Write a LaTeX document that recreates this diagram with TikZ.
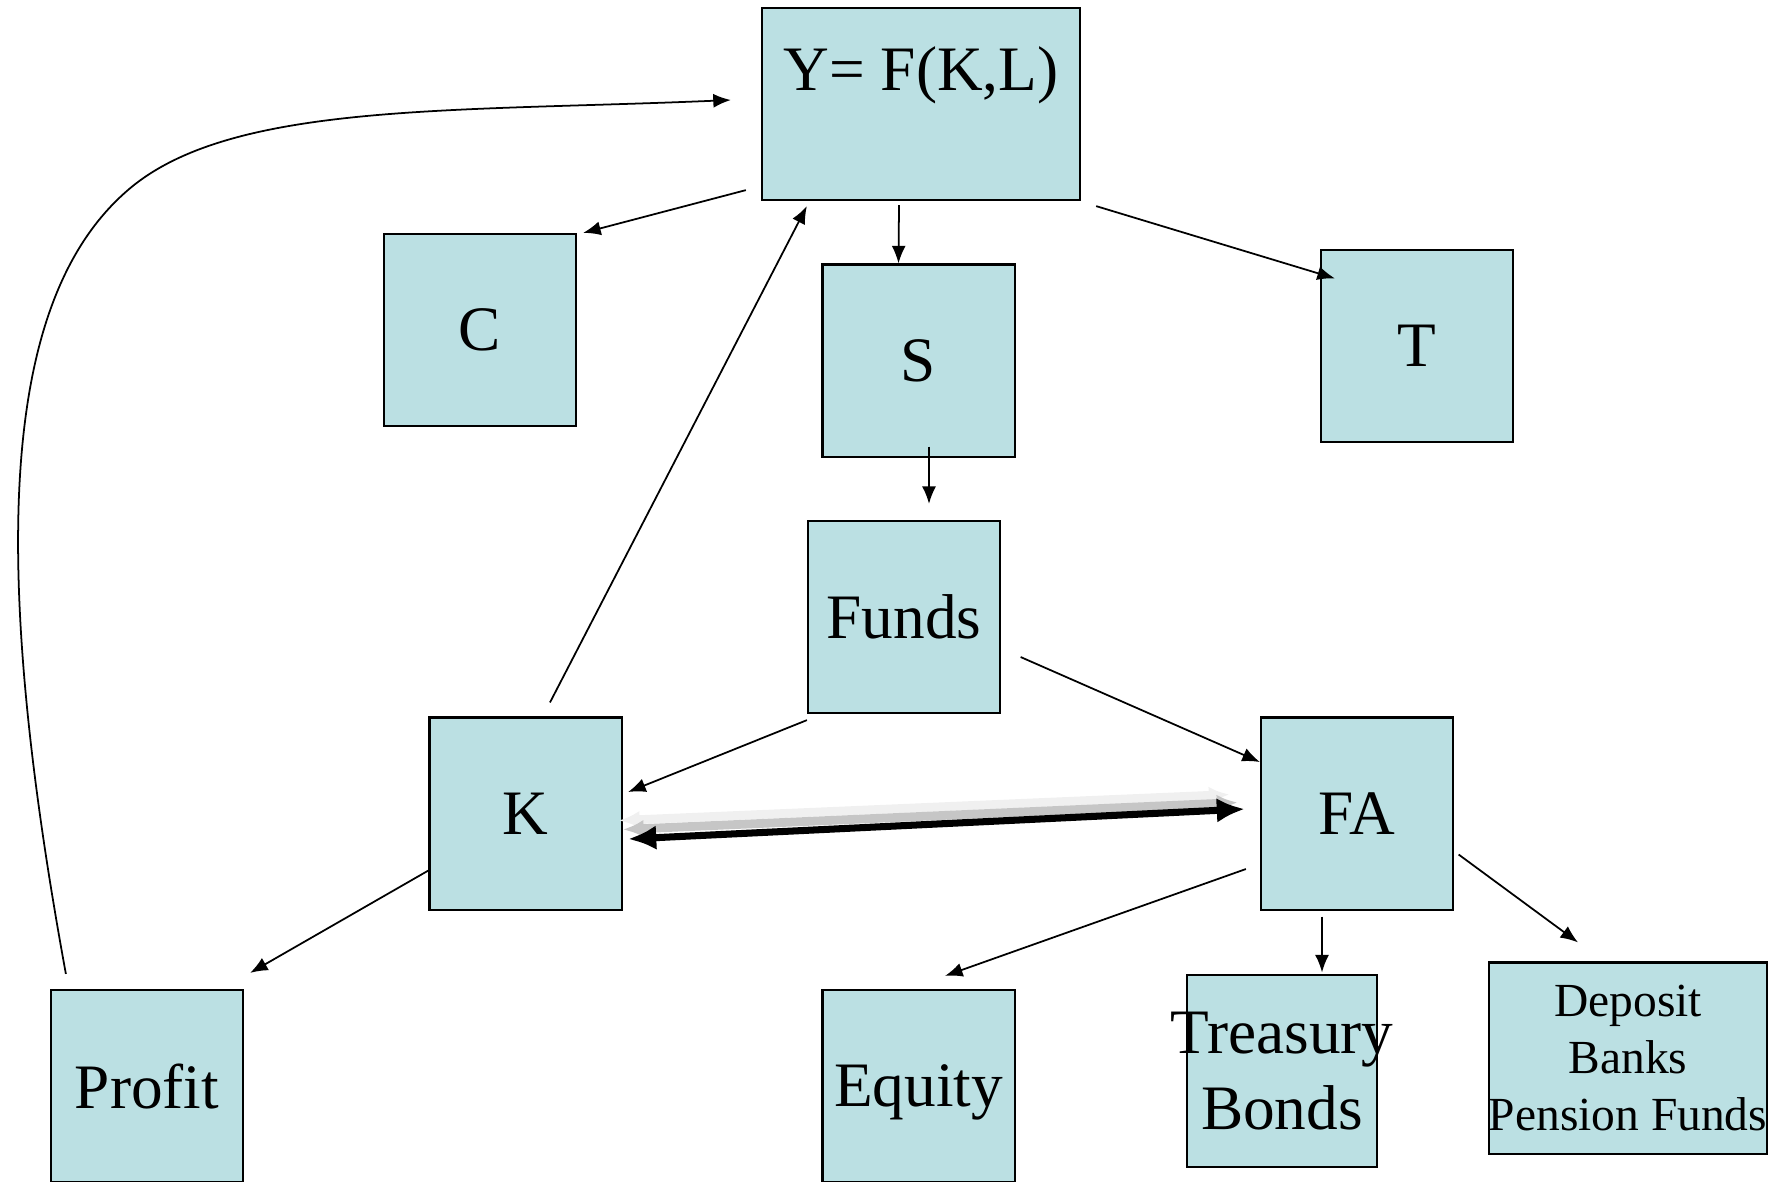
\documentclass[tikz,border=0pt]{standalone}
\usepackage{fontspec}
\setmainfont{Liberation Serif}
\usetikzlibrary{positioning,calc,arrows.meta}
\definecolor{boxfill}{RGB}{187,224,227}
\tikzset{box/.style={draw=black,line width=0.6pt,fill=boxfill,align=center,inner sep=0pt,
    minimum width=1.92cm,minimum height=1.92cm,font=\fontsize{18}{21.6}\selectfont}}
\tikzset{flow/.style={line width=0.5pt,-{Latex[length=5pt,width=4pt]}}}
\tikzset{bigarrow/.style={line width=2pt,{Latex[length=8pt,width=7pt]}-{Latex[length=8pt,width=7pt]}}}
\tikzset{ghost/.style={line width=2.5pt,{Latex[length=6pt,width=5pt]}-{Latex[length=6pt,width=5pt]}}}

\begin{document}
\begin{tikzpicture}[x=0.01cm,y=-0.01cm]
    \useasboundingbox (0,0) rectangle (1789,1181);
    % boxes
    \node[box,minimum width=3.18cm] (Y) at (921,104) {Y= F(K,L)\\[-0.28cm] \strut};
    \node[box] (C) at (480,330) {C};
    \node[box] (S) at (918.5,360.5) {S};
    \node[box] (T) at (1417,346) {T};
    \node[box] (Funds) at (904,617) {Funds};
    \node[box] (K) at (525.5,813.5) {K};
    \node[box] (FA) at (1357,813.5) {FA};
    \node[box] (Profit) at (147,1086) {Profit};
    \node[box,text depth=0pt] (Equity) at (918.5,1086) {Equity};
    \node[box,minimum width=1.9cm] (TB) at (1282,1071) {\makebox[0pt]{Treasury}\\Bonds};
    \node[box,minimum width=2.78cm,minimum height=1.91cm,font=\fontsize{13.5}{16.2}\selectfont] (DB) at (1628,1058) {Deposit\\Banks\\Pension Funds};
    % flows out of Y
    \draw[flow] ($(Y.south west)+(-15,-11)$) -- ($(C.north east)+(6,0)$);
    \draw[flow] ($(Y.south)+(-22,4)$) -- ($(S.north)+(-20,0)$);
    \draw[flow] ($(Y.south east)+(15,5)$) -- ($(T.north west)+(15,29.5)$);
    \draw[flow] ($(S.south)+(10.5,-11)$) -- ($(Funds.north)+(25,-16)$);
    \draw[flow] ($(Funds.south west)+(0,6)$) -- ($(K.east)+(5.5,-21.5)$);
    \draw[flow] ($(Funds.east)+(19.5,40)$) -- ($(FA.west)+(0,-51.5)$);
    \draw[flow] ($(K.north)+(24.5,-14)$) -- ($(Y.south west)+(46,5)$);
    \draw[flow] ($(K.west)+(0,57)$) -- ($(Profit.north east)+(6,-16)$);
    \draw[flow] ($(FA.west)+(-14,55.5)$) -- ($(Equity.north)+(26.5,-13)$);
    \draw[flow] ($(FA.south)+(-35,6)$) -- ($(TB.north)+(40,-1.5)$);
    \draw[flow] ($(FA.east)+(4.5,41)$) -- ($(DB.north)+(-50,-19)$);
    % profit back to output
    \draw[flow] ($(Profit.north west)+(16,-15)$) .. controls (-10,560) and (0,300) .. (128,190)
        .. controls (230,102) and (450,112) .. ($(Y.west)+(-30,-4)$);
    % K <-> FA
    \draw[ghost,gray!12] ($(K.east)+(-4,7)$) -- ($(FA.west)+(-30,-19)$);
    \draw[ghost,gray!45] ($(K.east)+(0,16)$) -- ($(FA.west)+(-22,-11)$);
    \draw[bigarrow] ($(K.east)+(5.5,25.5)$) -- ($(FA.west)+(-15,-4.5)$);
\end{tikzpicture}
\end{document}
